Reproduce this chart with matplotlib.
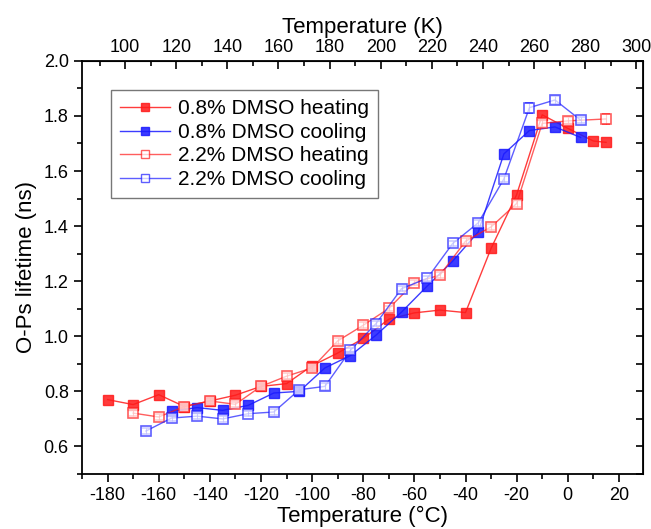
import numpy as np
import matplotlib
matplotlib.use("Agg")
import matplotlib.pyplot as plt
from matplotlib.ticker import MultipleLocator
from matplotlib.lines import Line2D

plt.rcParams['font.family'] = ['Liberation Sans', 'DejaVu Sans']
plt.rcParams['axes.unicode_minus'] = False

# 0.8% DMSO heating (filled red)
t_h08 = [-180, -170, -160, -150, -140, -130, -120, -110, -100, -90, -80, -70,
         -60, -50, -40, -30, -20, -10, 0, 10, 15]
v_h08 = [0.770, 0.752, 0.788, 0.745, 0.765, 0.786, 0.818, 0.828, 0.893, 0.939,
         0.992, 1.062, 1.085, 1.095, 1.086, 1.319, 1.514, 1.804, 1.755, 1.709, 1.704]

# 0.8% DMSO cooling (filled blue)
t_c08 = [-155, -145, -135, -125, -115, -105, -95, -85, -75, -65, -55, -45,
         -35, -25, -15, -5, 5]
v_c08 = [0.728, 0.741, 0.731, 0.749, 0.794, 0.800, 0.885, 0.930, 1.004, 1.088,
         1.182, 1.273, 1.379, 1.662, 1.747, 1.760, 1.722]

# 2.2% DMSO heating (open red)
t_h22 = [-170, -160, -150, -140, -130, -120, -110, -100, -90, -80, -70, -60,
         -50, -40, -30, -20, -10, 0, 15]
v_h22 = [0.721, 0.707, 0.745, 0.765, 0.753, 0.818, 0.855, 0.885, 0.983, 1.040,
         1.101, 1.195, 1.222, 1.345, 1.397, 1.482, 1.773, 1.782, 1.789]
e_h22 = [0.012, 0.012, 0.010, 0.010, 0.010, 0.010, 0.010, 0.010, 0.012, 0.010,
         0.010, 0.010, 0.012, 0.010, 0.010, 0.012, 0.015, 0.015, 0.018]

# 2.2% DMSO cooling (open blue)
t_c22 = [-165, -155, -145, -135, -125, -115, -105, -95, -85, -75, -65, -55,
         -45, -35, -25, -15, -5, 5]
v_c22 = [0.656, 0.703, 0.710, 0.700, 0.719, 0.725, 0.806, 0.818, 0.949, 1.046,
         1.173, 1.210, 1.337, 1.412, 1.571, 1.830, 1.858, 1.785]
e_c22 = [0.012, 0.010, 0.010, 0.012, 0.010, 0.010, 0.010, 0.012, 0.010, 0.010,
         0.010, 0.010, 0.010, 0.010, 0.010, 0.018, 0.016, 0.010]

labels = ['0.8% DMSO heating', '0.8% DMSO cooling',
          '2.2% DMSO heating', '2.2% DMSO cooling']

red = '#ff1a1a'
blue = '#1a1aff'

fig = plt.figure(figsize=(6.51, 5.29), dpi=100)
ax = fig.add_axes([0.126, 0.104, 0.862, 0.781])

ms = 7.5
ax.plot(t_h08, v_h08, '-', color=red, lw=1.0, marker='s', ms=ms,
        mfc=red, mec=red, alpha=0.85, zorder=3)
ax.plot(t_c08, v_c08, '-', color=blue, lw=1.0, marker='s', ms=ms,
        mfc=blue, mec=blue, alpha=0.85, zorder=3)
ax.errorbar(t_h22, v_h22, yerr=e_h22, fmt='-', color=red, lw=1.0, marker='s',
            ms=ms, mfc='white', mec=red, mew=1.2, ecolor=red, elinewidth=0.8,
            capsize=3, capthick=0.8, alpha=0.7, zorder=4)
ax.errorbar(t_c22, v_c22, yerr=e_c22, fmt='-', color=blue, lw=1.0, marker='s',
            ms=ms, mfc='white', mec=blue, mew=1.2, ecolor=blue, elinewidth=0.8,
            capsize=3, capthick=0.8, alpha=0.7, zorder=4)

ax.set_xlim(-190, 29.5)
ax.set_ylim(0.5, 2.0)
ax.xaxis.set_major_locator(MultipleLocator(20))
ax.xaxis.set_minor_locator(MultipleLocator(10))
ax.yaxis.set_major_locator(MultipleLocator(0.2))
ax.yaxis.set_minor_locator(MultipleLocator(0.1))
ax.yaxis.set_major_formatter(matplotlib.ticker.FormatStrFormatter('%.1f'))
ax.tick_params(which='major', direction='out', length=6, width=1.2, labelsize=13)
ax.tick_params(which='minor', direction='out', length=3.5, width=1.2)
ax.set_xlabel('Temperature (°C)', fontsize=16, labelpad=1)
ax.set_ylabel('O-Ps lifetime (ns)', fontsize=16, labelpad=5)
for s in ax.spines.values():
    s.set_linewidth(1.3)

# top axis in Kelvin
top = ax.secondary_xaxis('top', functions=(lambda c: c + 273.15, lambda k: k - 273.15))
top.xaxis.set_major_locator(MultipleLocator(20))
top.xaxis.set_minor_locator(MultipleLocator(10))
top.tick_params(which='major', direction='in', length=6, width=1.2, labelsize=13)
top.tick_params(which='minor', direction='in', length=3.5, width=1.2)
top.set_xlabel('Temperature (K)', fontsize=16, labelpad=4)
top.set_xticks(np.arange(100, 301, 20))

# right axis ticks only
right = ax.secondary_yaxis('right')
right.yaxis.set_major_locator(MultipleLocator(0.1))
right.tick_params(direction='in', length=5, width=1.2, labelright=False)

handles = [
    Line2D([], [], color=red, lw=1.0, marker='s', ms=6, mfc=red, mec=red, alpha=0.85),
    Line2D([], [], color=blue, lw=1.0, marker='s', ms=6, mfc=blue, mec=blue, alpha=0.85),
    Line2D([], [], color=red, lw=1.0, marker='s', ms=6, mfc='white', mec=red, alpha=0.7),
    Line2D([], [], color=blue, lw=1.0, marker='s', ms=6, mfc='white', mec=blue, alpha=0.7),
]
leg = ax.legend(handles, labels, loc='upper left', bbox_to_anchor=(0.033, 0.955),
                fontsize=15, frameon=True, fancybox=False, edgecolor='#555555',
                handlelength=2.4, borderpad=0.45, labelspacing=0.22, handletextpad=0.35)
leg.get_frame().set_linewidth(1.0)

fig.savefig('out.png', dpi=100)
